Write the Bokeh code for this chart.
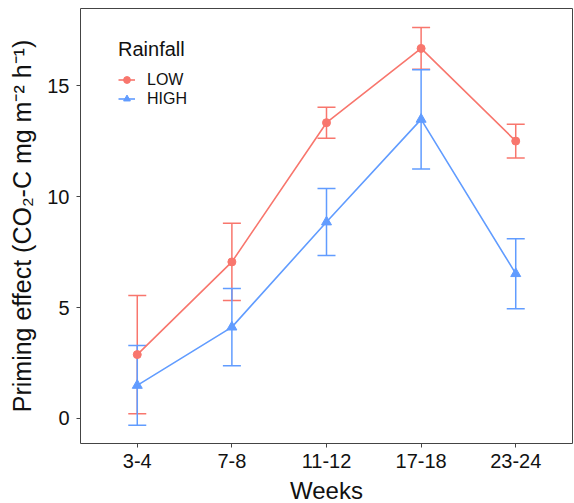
from bokeh.plotting import figure
from bokeh.models import (ColumnDataSource, FactorRange, Range1d, Whisker, TeeHead,
                          FixedTicker, Legend)
from bokeh.embed import file_html
from bokeh.resources import INLINE

weeks = ["3-4", "7-8", "11-12", "17-18", "23-24"]
low_mean = [2.88, 7.06, 13.34, 16.69, 12.51]
low_se = [2.67, 1.74, 0.70, 0.94, 0.76]
high_mean = [1.49, 4.12, 8.86, 13.49, 6.53]
high_se = [1.80, 1.74, 1.51, 2.24, 1.58]
y_ticks = [0, 5, 10, 15]

LOW_C = "#F8766D"
HIGH_C = "#619CFF"
FONT = "Liberation Sans"

p = figure(x_range=FactorRange(factors=weeks, range_padding=0.1, range_padding_units="absolute"),
           y_range=Range1d(-1.13, 18.49),
           frame_width=492, frame_height=435,
           min_border_left=80, min_border_right=2, min_border_top=8, min_border_bottom=60,
           output_backend="svg", toolbar_location=None)

p.background_fill_color = "white"
p.border_fill_color = "white"
p.outline_line_color = "#444444"
p.outline_line_width = 1
p.xgrid.visible = False
p.ygrid.visible = False

series = [("LOW", low_mean, low_se, LOW_C, "circle", 8),
          ("HIGH", high_mean, high_se, HIGH_C, "triangle", 10)]

renderers = {}
for name, mean, se, col, marker, size in series:
    src = ColumnDataSource(dict(x=weeks, y=mean,
                                upper=[m + s for m, s in zip(mean, se)],
                                lower=[m - s for m, s in zip(mean, se)]))
    w = Whisker(source=src, base="x", upper="upper", lower="lower",
                line_color=col, line_width=1.5,
                upper_head=TeeHead(size=18, line_color=col, line_width=1.5),
                lower_head=TeeHead(size=18, line_color=col, line_width=1.5))
    p.add_layout(w)
    r1 = p.line("x", "y", source=src, line_color=col, line_width=1.6)
    r2 = p.scatter("x", "y", source=src, marker=marker, size=size,
                   fill_color=col, line_color=col)
    renderers[name] = [r1, r2]

legend = Legend(items=[("LOW", renderers["LOW"]), ("HIGH", renderers["HIGH"])],
                location=(38, 335), title="Rainfall")
legend.title_text_font = FONT
legend.title_text_font_size = "20px"
legend.title_text_font_style = "normal"
legend.title_text_color = "#111111"
legend.title_standoff = 9
legend.label_text_font = FONT
legend.label_text_font_size = "16px"
legend.label_text_color = "#111111"
legend.label_standoff = 12
legend.glyph_width = 17
legend.glyph_height = 19
legend.label_height = 19
legend.spacing = 0
legend.padding = 0
legend.margin = 0
legend.border_line_color = None
legend.background_fill_color = None
p.add_layout(legend)

for ax in (p.xaxis[0], p.yaxis[0]):
    ax.axis_line_color = None
    ax.major_tick_line_color = "#444444"
    ax.major_tick_out = 4
    ax.major_tick_in = 0
    ax.minor_tick_line_color = None
    ax.major_label_text_font = FONT
    ax.major_label_text_font_size = "20px"
    ax.major_label_text_color = "#111111"
    ax.axis_label_text_font = FONT
    ax.axis_label_text_font_style = "normal"
    ax.axis_label_text_color = "#111111"

p.xaxis.axis_label = "Weeks"
p.xaxis.axis_label_text_font_size = "24px"
p.xaxis.major_label_standoff = 6
p.xaxis.axis_label_standoff = 6
p.yaxis.axis_label = "Priming effect (CO\u2082-C mg m\u207b\u00b2 h\u207b\u00b9)"
p.yaxis.axis_label_text_font_size = "25px"
p.yaxis.ticker = FixedTicker(ticks=y_ticks)
p.yaxis.major_label_standoff = 7
p.yaxis.axis_label_standoff = 8

open("out.html", "w").write(file_html(p, INLINE))
